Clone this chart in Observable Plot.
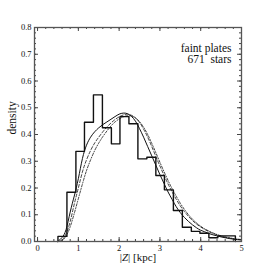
<!DOCTYPE html>
<html><head><meta charset="utf-8">
<script src="https://cdn.jsdelivr.net/npm/d3@7"></script>
<script src="https://cdn.jsdelivr.net/npm/@observablehq/plot@0.6"></script>
<style>body{margin:0;background:#fff} svg text{font-family:"Liberation Serif","DejaVu Serif",serif !important;}</style>
</head><body><div id="chart"></div>
<script>
// Histogram of faint-plate stars (density per bin)
const binEdges = [0.50,0.72,0.94,1.15,1.37,1.59,1.81,2.02,2.24,2.46,2.68,2.90,3.11,3.33,3.55,3.77,3.98,4.20,4.42,4.64,4.85];
const binDensity = [0.019,0.184,0.337,0.446,0.548,0.425,0.365,0.467,0.440,0.309,0.315,0.247,0.193,0.116,0.053,0.038,0.031,0.014,0.021,0.021];
// Model curves
const curveZ = [0.5,0.6,0.7,0.8,0.9,1.0,1.1,1.2,1.3,1.4,1.5,1.6,1.7,1.8,1.9,2.0,2.1,2.2,2.3,2.4,2.5,2.6,2.7,2.8,2.9,3.0,3.1,3.2,3.3,3.4,3.5,3.6,3.7,3.8,3.9,4.0,4.1,4.2,4.3,4.4,4.5,4.6,4.7,4.8,4.9,5.0];
const solidFit = [0,0.015,0.045,0.11,0.17,0.235,0.31,0.36,0.39,0.41,0.425,0.437,0.447,0.457,0.467,0.476,0.48,0.478,0.468,0.45,0.422,0.39,0.355,0.32,0.285,0.25,0.217,0.185,0.157,0.13,0.108,0.09,0.075,0.062,0.051,0.042,0.036,0.03,0.025,0.021,0.017,0.014,0.011,0.009,0.007,0.006];
const dashedFit = [0,0.005,0.03,0.075,0.14,0.2,0.26,0.305,0.34,0.368,0.39,0.41,0.428,0.443,0.456,0.466,0.473,0.476,0.472,0.462,0.445,0.42,0.39,0.355,0.318,0.282,0.248,0.215,0.185,0.158,0.133,0.112,0.094,0.078,0.065,0.054,0.045,0.037,0.03,0.025,0.02,0.016,0.013,0.01,0.008,0.006];
const dottedFit = [0,0.003,0.02,0.055,0.105,0.16,0.215,0.265,0.305,0.34,0.368,0.392,0.413,0.432,0.447,0.458,0.466,0.47,0.469,0.462,0.448,0.427,0.4,0.367,0.332,0.296,0.261,0.228,0.197,0.169,0.143,0.12,0.1,0.083,0.069,0.057,0.047,0.039,0.032,0.026,0.021,0.017,0.014,0.011,0.009,0.007];
const xTicks = [0,1,2,3,4,5];
const yTicks = [0,0.1,0.2,0.3,0.4,0.5,0.6,0.7,0.8];
const xMinor = d3.range(0, 5.001, 0.2);
const yMinor = d3.range(0, 0.8001, 0.02);
const annot = ["faint plates", "671  stars"];

const steps = [{z: binEdges[0], d: 0}]
  .concat(binDensity.map((d, i) => ({z: binEdges[i], d})))
  .concat([{z: binEdges[binEdges.length-1], d: binDensity[binDensity.length-1]}, {z: binEdges[binEdges.length-1], d: 0}]);
const curves = curveZ.map((z, i) => ({z, s: solidFit[i], a: dashedFit[i], b: dottedFit[i]}));

const W = 268, H = 268, mL = 34, mR = 27, mT = 27, mB = 27;
const fw = W - mL - mR, fh = H - mT - mB;
const ink = "#111";
const tickCol = "#444";
const serif = "Liberation Serif";

const chart = Plot.plot({
  width: W, height: H,
  marginLeft: mL, marginRight: mR, marginTop: mT, marginBottom: mB,
  style: {background: "#fff", color: "#111"},
  x: {domain: [-0.075, 5]},
  y: {domain: [0, 0.8]},
  marks: [
    Plot.axisX({anchor: "bottom", ticks: xTicks, tickSize: 0, tickPadding: 3, fontSize: 8.5, fontFamily: serif, label: null, tickFormat: d => String(d)}),
    Plot.axisY({anchor: "left", ticks: yTicks, tickSize: 0, tickPadding: 3, fontSize: 8.5, fontFamily: serif, label: null, tickFormat: d3.format(".1f")}),
    // inward ticks on all four sides
    Plot.ruleX(xTicks, {insetTop: fh - 4, stroke: tickCol}),
    Plot.ruleX(xMinor, {insetTop: fh - 2, stroke: tickCol}),
    Plot.ruleX(xTicks, {insetBottom: fh - 4, stroke: tickCol}),
    Plot.ruleX(xMinor, {insetBottom: fh - 2, stroke: tickCol}),
    Plot.ruleY(yTicks, {insetRight: fw - 4, stroke: tickCol}),
    Plot.ruleY(yMinor, {insetRight: fw - 2, stroke: tickCol}),
    Plot.ruleY(yTicks, {insetLeft: fw - 4, stroke: tickCol}),
    Plot.ruleY(yMinor, {insetLeft: fw - 2, stroke: tickCol}),
    Plot.line(curves, {x: "z", y: "b", stroke: ink, strokeWidth: 0.8, strokeDasharray: "1,1.6,2.4,1.6", curve: "natural"}),
    Plot.line(curves, {x: "z", y: "a", stroke: ink, strokeWidth: 0.8, strokeDasharray: "3,2", curve: "natural"}),
    Plot.line(curves, {x: "z", y: "s", stroke: ink, strokeWidth: 1, curve: "natural"}),
    Plot.line(steps, {x: "z", y: "d", stroke: ink, strokeWidth: 1.4, curve: "step-after"}),
    Plot.frame({stroke: "#555", strokeWidth: 1.3}),
    Plot.text([annot[0]], {frameAnchor: "top-right", dx: -10, dy: 16, fontSize: 11.5, fontFamily: serif, textAnchor: "end", fill: ink}),
    Plot.text([annot[1]], {frameAnchor: "top-right", dx: -10, dy: 27, fontSize: 11.5, fontFamily: serif, textAnchor: "end", fill: ink}),
    Plot.text(["density"], {frameAnchor: "left", dx: -22, dy: 0, rotate: -90, fontSize: 11.5, fontFamily: serif, fill: ink}),
    Plot.text(["|Z| [kpc]"], {frameAnchor: "bottom", dy: 19, fontSize: 11, fontFamily: serif, fill: ink})
  ]
});
document.getElementById("chart").appendChild(chart);
// italic Z in the axis label
d3.select(chart).selectAll("text").filter(function(){ return this.textContent === "|Z| [kpc]"; }).each(function(){
  const t = d3.select(this); t.text(null);
  t.append("tspan").text("|");
  t.append("tspan").attr("font-style", "italic").text("Z");
  t.append("tspan").text("| [kpc]");
});
</script>
</body></html>
